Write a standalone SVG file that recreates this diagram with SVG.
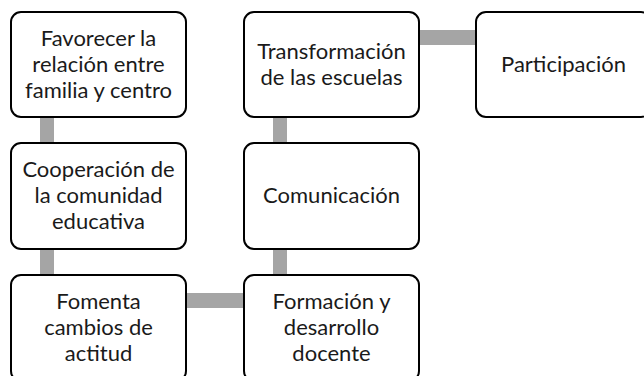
<svg xmlns="http://www.w3.org/2000/svg" width="644" height="376" viewBox="0 0 644 376">
<style>
.box{fill:#fff;stroke:#000;stroke-width:2}
.lbl{font-family:Lato,"Liberation Sans",sans-serif;font-size:22px;font-weight:400;fill:#1a1a1a;text-anchor:middle}
.con{fill:#A5A5A5}
</style>
<rect width="644" height="376" fill="#fff"/>
<g id="connectors">
<rect class="con" x="40" y="117" width="14" height="26"/>
<rect class="con" x="40" y="249" width="14" height="26"/>
<rect class="con" x="186" y="293" width="58" height="15"/>
<rect class="con" x="273" y="249" width="14" height="26"/>
<rect class="con" x="273" y="117" width="14" height="26"/>
<rect class="con" x="420" y="30" width="56" height="15"/>
</g>
<g id="n1"><rect class="box" x="11" y="12" width="175" height="105" rx="10"/>
<text class="lbl" x="98.5" y="46">Favorecer la</text><text class="lbl" x="98.5" y="72">relación entre</text><text class="lbl" x="98.5" y="98">familia y centro</text></g>
<g id="n2"><rect class="box" x="11" y="143" width="175" height="106" rx="10"/>
<text class="lbl" x="98.5" y="177">Cooperación de</text><text class="lbl" x="98.5" y="203">la comunidad</text><text class="lbl" x="98.5" y="229">educativa</text></g>
<g id="n3"><rect class="box" x="11" y="275" width="175" height="106" rx="10"/>
<text class="lbl" x="98.5" y="309">Fomenta</text><text class="lbl" x="98.5" y="335">cambios de</text><text class="lbl" x="98.5" y="361">actitud</text></g>
<g id="n4"><rect class="box" x="244" y="275" width="175" height="106" rx="10"/>
<text class="lbl" x="331.5" y="309">Formación y</text><text class="lbl" x="331.5" y="335">desarrollo</text><text class="lbl" x="331.5" y="361">docente</text></g>
<g id="n5"><rect class="box" x="244" y="143" width="175" height="106" rx="10"/>
<text class="lbl" x="331.5" y="203">Comunicación</text></g>
<g id="n6"><rect class="box" x="244" y="12" width="175" height="105" rx="10"/>
<text class="lbl" x="331.5" y="59">Transformación</text><text class="lbl" x="331.5" y="85">de las escuelas</text></g>
<g id="n7"><rect class="box" x="476" y="12" width="175" height="105" rx="10"/>
<text class="lbl" x="563.5" y="72">Participación</text></g>
</svg>
